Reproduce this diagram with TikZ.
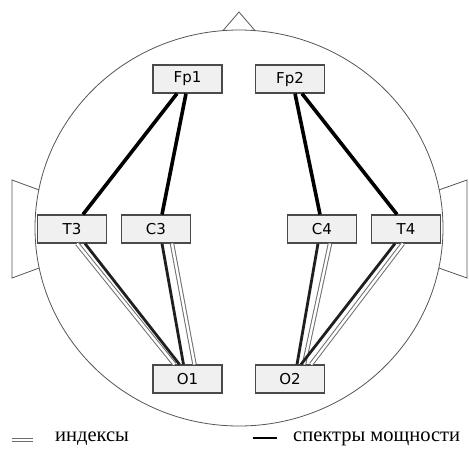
\documentclass[tikz,border=0pt]{standalone}
\usepackage{fontspec}
\setmainfont{Liberation Serif}
\newfontfamily\boxfont{DejaVu Sans}
\definecolor{boxfill}{HTML}{F0F0F0}
\definecolor{boxline}{HTML}{4A4A4A}
\definecolor{headline}{HTML}{555555}
\definecolor{idxline}{HTML}{6E6E6E}
\tikzset{
  elec/.style={draw=boxline, line width=1.1pt, fill=boxfill, minimum width=69pt, minimum height=28pt, inner sep=0pt, font=\boxfont\fontsize{15}{17}\selectfont},
  spec/.style={black, line width=3.6pt},
  specb/.style={black!88, line width=2.8pt},
  idx/.style={draw=idxline, line width=1pt, double=white, double distance=2.4pt},
  head/.style={draw=headline, line width=0.8pt},
  legtext/.style={font=\fontsize{20.5}{23}\selectfont, inner sep=0pt, anchor=west}
}
\begin{document}
\begin{tikzpicture}[x=1pt,y=-1pt]
\useasboundingbox (0,0) rectangle (469,448);
% head outline
\draw[head] (239,228) ellipse [x radius=204pt, y radius=198pt];
\draw[head] (223,30.6) -- (239,12) -- (255,30.6);
\draw[head] (39.2,190) -- (12,180) -- (12,278) -- (39.2,268);
\draw[head] (438.8,190) -- (467,180) -- (467,278) -- (438.8,268);
% electrodes
\node[elec] (Fp1) at (187.5,79) {Fp1};
\node[elec] (Fp2) at (290,79) {Fp2};
\node[elec] (T3) at (72,229) {T3};
\node[elec] (C3) at (156,229) {C3};
\node[elec] (C4) at (322,229) {C4};
\node[elec] (T4) at (406,229) {T4};
\node[elec] (O1) at (187.5,379) {O1};
\node[elec] (O2) at (290,379) {O2};
% power spectra (upper)
\draw[spec] ([xshift=-10.5pt]Fp1.south) -- ([xshift=11pt]T3.north);
\draw[spec] ([xshift=-1.5pt]Fp1.south) -- ([xshift=6pt]C3.north);
\draw[spec] ([xshift=5pt]Fp2.south) -- ([xshift=-2pt]C4.north);
\draw[spec] ([xshift=12pt]Fp2.south) -- ([xshift=-9pt]T4.north);
% indices (lower)
\draw[idx] ([xshift=5pt]T3.south) -- ([xshift=-13pt]O1.north);
\draw[idx] ([xshift=16pt]C3.south) -- ([xshift=7pt]O1.north);
\draw[idx] ([xshift=8pt]C4.south) -- ([xshift=14pt]O2.north);
\draw[idx] ([xshift=-3pt]T4.south) -- ([xshift=21pt]O2.north);
% power spectra (lower)
\draw[specb] ([xshift=13pt]T3.south) -- ([xshift=-8pt]O1.north);
\draw[specb] ([xshift=6pt]C3.south) -- ([xshift=-4pt]O1.north);
\draw[specb] ([xshift=-4pt]C4.south) -- ([xshift=7pt]O2.north);
\draw[specb] ([xshift=-11pt]T4.south) -- ([xshift=11pt]O2.north);
% legend
\coordinate (li1) at (12,440);
\coordinate (li2) at (33,440);
\draw[idx] (li1) -- (li2);
\node[legtext] (lidx) at (55,439) {индексы};
\coordinate (ls1) at (253,438);
\coordinate (ls2) at (277,438);
\draw[black, line width=2.8pt] (ls1) -- (ls2);
\node[legtext] (lspec) at (293,439) {спектры мощности};
\end{tikzpicture}
\end{document}
